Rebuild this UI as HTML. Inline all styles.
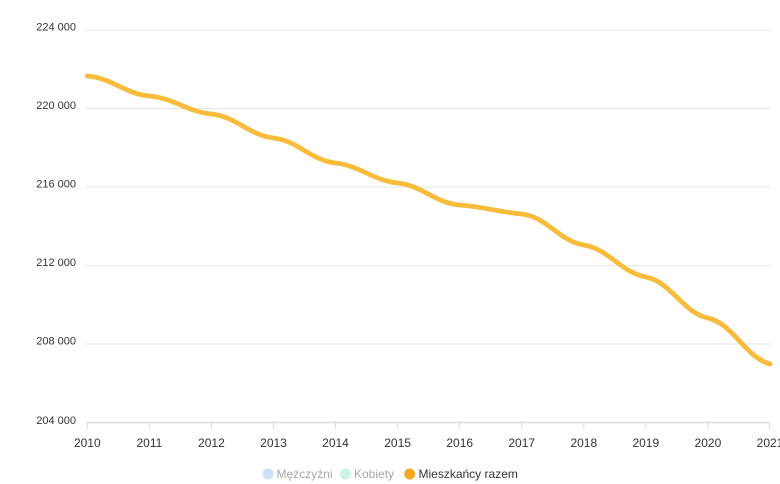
<!DOCTYPE html>
<html>
<head>
<meta charset="utf-8">
<style>
html,body{margin:0;padding:0;background:#fff;}
svg{display:block;font-family:"Liberation Sans",Arial,sans-serif;}
</style>
</head>
<body>
<svg width="780" height="484" viewBox="0 0 780 484" xmlns="http://www.w3.org/2000/svg">
  <rect width="780" height="484" fill="#fff"/>
  <!-- grid -->
  <g stroke="#e6e6e6" stroke-width="1">
    <line x1="86" y1="30.5" x2="770" y2="30.5"/>
    <line x1="86" y1="108.5" x2="770" y2="108.5"/>
    <line x1="86" y1="187" x2="770" y2="187"/>
    <line x1="86" y1="265.5" x2="770" y2="265.5"/>
    <line x1="86" y1="344" x2="770" y2="344"/>
  </g>
  <!-- x axis -->
  <line x1="86" y1="422.5" x2="770" y2="422.5" stroke="#dcdcdc" stroke-width="1.5"/>
  <g stroke="#dcdcdc" stroke-width="1">
    <line x1="87.3" y1="422" x2="87.3" y2="429"/>
    <line x1="149.4" y1="422" x2="149.4" y2="429"/>
    <line x1="211.4" y1="422" x2="211.4" y2="429"/>
    <line x1="273.5" y1="422" x2="273.5" y2="429"/>
    <line x1="335.5" y1="422" x2="335.5" y2="429"/>
    <line x1="397.6" y1="422" x2="397.6" y2="429"/>
    <line x1="459.7" y1="422" x2="459.7" y2="429"/>
    <line x1="521.7" y1="422" x2="521.7" y2="429"/>
    <line x1="583.8" y1="422" x2="583.8" y2="429"/>
    <line x1="645.8" y1="422" x2="645.8" y2="429"/>
    <line x1="707.9" y1="422" x2="707.9" y2="429"/>
    <line x1="769.5" y1="422" x2="769.5" y2="429"/>
  </g>
  <!-- y labels -->
  <g font-size="11" fill="#333" text-anchor="end">
    <text x="76" y="30.5">224 000</text>
    <text x="76" y="109">220 000</text>
    <text x="76" y="187.5">216 000</text>
    <text x="76" y="266">212 000</text>
    <text x="76" y="344.5">208 000</text>
    <text x="76" y="424">204 000</text>
  </g>
  <!-- x labels -->
  <g font-size="12" fill="#333" text-anchor="middle">
    <text x="87.3" y="447">2010</text>
    <text x="149.4" y="447">2011</text>
    <text x="211.4" y="447">2012</text>
    <text x="273.5" y="447">2013</text>
    <text x="335.5" y="447">2014</text>
    <text x="397.6" y="447">2015</text>
    <text x="459.7" y="447">2016</text>
    <text x="521.7" y="447">2017</text>
    <text x="583.8" y="447">2018</text>
    <text x="645.8" y="447">2019</text>
    <text x="707.9" y="447">2020</text>
    <text x="770" y="447">2021</text>
  </g>
  <!-- series -->
  <path d="M87.3 76 C112.1 78 124.6 93.7 149.4 96 C174.2 98.3 186.6 111.5 211.4 114 C236.2 116.5 248.7 135.1 273.5 138 C298.3 140.9 310.7 160.3 335.5 163 C360.3 165.7 372.8 180.5 397.6 183 C422.4 185.5 434.9 203.1 459.7 205 C484.5 206.9 496.9 211.6 521.7 214 C546.5 216.4 559 241.2 583.8 245 C608.6 248.8 621 272.6 645.8 277 C670.6 281.4 683.1 312.8 707.9 318 C732.7 323.2 745.2 357.3 770 364"
        fill="none" stroke="#f7bc3c" stroke-width="4.8" stroke-linecap="round" stroke-linejoin="round"/>
  <!-- legend -->
  <g font-size="12">
    <circle cx="268" cy="474" r="5.5" fill="#cce0f7"/>
    <text x="276.5" y="478" fill="#a6a6a6">Mężczyźni</text>
    <circle cx="345.3" cy="474" r="5.5" fill="#cdf3e4"/>
    <text x="354" y="478" fill="#a6a6a6">Kobiety</text>
    <circle cx="409.7" cy="474" r="5.5" fill="#f7a823"/>
    <text x="418.5" y="478" fill="#333">Mieszkańcy razem</text>
  </g>
</svg>
</body>
</html>
